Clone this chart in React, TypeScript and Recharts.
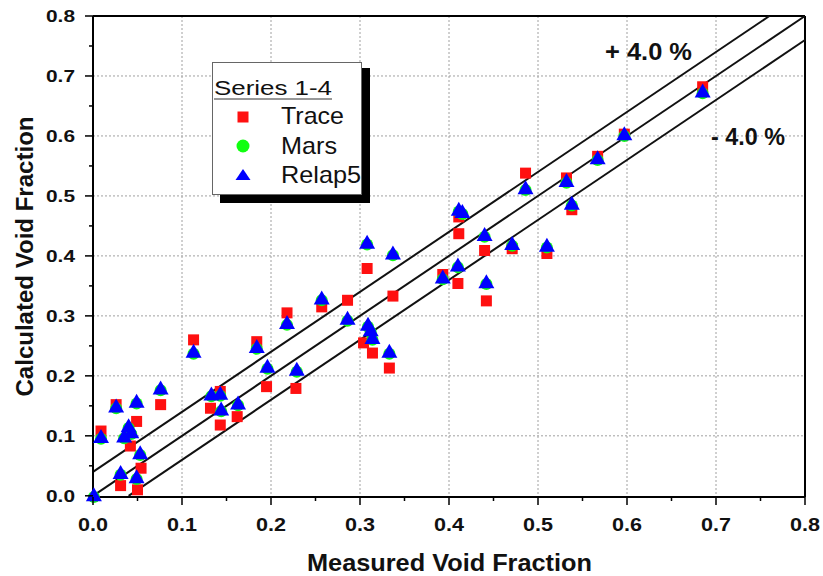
import {
  ScatterChart,
  Scatter,
  XAxis,
  YAxis,
  CartesianGrid,
  ReferenceLine,
  Legend,
  Label,
} from 'recharts';

// [measured, calculated]
const traceData: [number, number][] = [
  [0.009, 0.108], [0.026, 0.152], [0.031, 0.017], [0.042, 0.083], [0.049, 0.124],
  [0.054, 0.046], [0.05, 0.01], [0.076, 0.152], [0.113, 0.26], [0.132, 0.146],
  [0.143, 0.118], [0.143, 0.174], [0.162, 0.132], [0.184, 0.257], [0.195, 0.182],
  [0.218, 0.305], [0.228, 0.179], [0.257, 0.315], [0.286, 0.326], [0.308, 0.379],
  [0.337, 0.333], [0.304, 0.255], [0.314, 0.238], [0.333, 0.213], [0.393, 0.369],
  [0.41, 0.354], [0.411, 0.437], [0.411, 0.465], [0.44, 0.409], [0.442, 0.325],
  [0.471, 0.412], [0.486, 0.538], [0.51, 0.404], [0.532, 0.53], [0.538, 0.477],
  [0.567, 0.566], [0.597, 0.603], [0.685, 0.682],
];

const marsData: [number, number][] = [
  [0.001, -0.002], [0.009, 0.095], [0.026, 0.146], [0.031, 0.035], [0.035, 0.096],
  [0.04, 0.113], [0.043, 0.103], [0.049, 0.154], [0.053, 0.068], [0.049, 0.028],
  [0.076, 0.176], [0.113, 0.237], [0.133, 0.166], [0.143, 0.167], [0.144, 0.141],
  [0.163, 0.151], [0.184, 0.245], [0.196, 0.212], [0.218, 0.285], [0.229, 0.207],
  [0.257, 0.326], [0.286, 0.292], [0.308, 0.419], [0.337, 0.401], [0.309, 0.282],
  [0.312, 0.273], [0.314, 0.26], [0.333, 0.237], [0.393, 0.361], [0.41, 0.381],
  [0.411, 0.474], [0.415, 0.47], [0.44, 0.432], [0.442, 0.353], [0.471, 0.417],
  [0.486, 0.51], [0.51, 0.414], [0.532, 0.522], [0.538, 0.484], [0.567, 0.56],
  [0.597, 0.6], [0.685, 0.671],
];

const relapData: [number, number][] = [
  [0.001, 0.001], [0.009, 0.098], [0.026, 0.149], [0.031, 0.038], [0.035, 0.099],
  [0.04, 0.116], [0.043, 0.106], [0.049, 0.157], [0.053, 0.071], [0.049, 0.031],
  [0.076, 0.179], [0.113, 0.24], [0.133, 0.169], [0.143, 0.17], [0.144, 0.144],
  [0.163, 0.154], [0.184, 0.248], [0.196, 0.215], [0.218, 0.288], [0.229, 0.21],
  [0.257, 0.329], [0.286, 0.295], [0.308, 0.422], [0.337, 0.404], [0.309, 0.285],
  [0.312, 0.276], [0.314, 0.263], [0.333, 0.24], [0.393, 0.364], [0.41, 0.384],
  [0.411, 0.477], [0.415, 0.473], [0.44, 0.435], [0.442, 0.356], [0.471, 0.42],
  [0.486, 0.513], [0.51, 0.417], [0.532, 0.525], [0.538, 0.487], [0.567, 0.563],
  [0.597, 0.603], [0.685, 0.674],
];

const majorTicks = [0, 0.1, 0.2, 0.3, 0.4, 0.5, 0.6, 0.7, 0.8];
const minorTicks = [0.05, 0.15, 0.25, 0.35, 0.45, 0.55, 0.65, 0.75];
const gridValues = [0.1, 0.2, 0.3, 0.4, 0.5, 0.6, 0.7];
const bandOffsets = [0.04, 0, -0.04];
const legendItems = ['Trace', 'Mars', 'Relap5'];

const FONT = '"Liberation Sans", Arial, sans-serif';
const MAX = 0.8;
const RED = '#ff1010';
const GREEN = '#10ff10';
const BLUE = '#0000ff';

const toPoints = (arr: [number, number][]) => arr.map(([x, y]) => ({ x, y }));
const allTicks = [...majorTicks, ...minorTicks].sort((a, b) => a - b);
const isMajor = (v: number) => majorTicks.includes(v);

const XTick = ({ x, y, payload }: any) => {
  const major = isMajor(payload.value);
  return (
    <g>
      <line x1={x} x2={x} y1={y} y2={y + (major ? 8 : 4)} stroke="#000" strokeWidth={1.5} />
      {major && (
        <text
          x={x}
          y={y + 34}
          textAnchor="middle"
          fontFamily={FONT}
          fontWeight="bold"
          fontSize={18}
          textLength={30}
          lengthAdjust="spacingAndGlyphs"
          fill="#111"
        >
          {payload.value.toFixed(1)}
        </text>
      )}
    </g>
  );
};

const YTick = ({ x, y, payload }: any) => {
  const major = isMajor(payload.value);
  return (
    <g>
      <line x1={x} x2={x - (major ? 8 : 4)} y1={y} y2={y} stroke="#000" strokeWidth={1.5} />
      {major && (
        <text
          x={x - 47}
          y={y + 6}
          fontFamily={FONT}
          fontWeight="bold"
          fontSize={17}
          textLength={29}
          lengthAdjust="spacingAndGlyphs"
          fill="#111"
        >
          {payload.value.toFixed(1)}
        </text>
      )}
    </g>
  );
};

const Square = ({ cx, cy }: any) => (
  <rect x={cx - 5.5} y={cy - 5.5} width={11} height={11} fill={RED} />
);
const Dot = ({ cx, cy }: any) => <circle cx={cx} cy={cy} r={6} fill={GREEN} />;
const Tri = ({ cx, cy }: any) => (
  <polygon points={`${cx},${cy - 8} ${cx + 8},${cy + 6} ${cx - 8},${cy + 6}`} fill={BLUE} />
);

const legendWidths = [63, 56, 80];

// legend drawn relative to a wrapper whose origin is (205, 55)
const LegendBox = () => (
  <svg width={175} height={155} style={{ display: 'block' }}>
    <rect x={15} y={13} width={150} height={135} fill="#000" />
    <rect x={7.5} y={7.5} width={149} height={132} fill="#fff" stroke="#666" strokeWidth={1} />
    <text
      x={9}
      y={40}
      fontFamily={FONT}
      fontSize={20}
      textLength={118}
      lengthAdjust="spacingAndGlyphs"
      fill="#111"
    >
      Series 1-4
    </text>
    <line x1={9} x2={127} y1={44} y2={44} stroke="#333" strokeWidth={1.2} />
    <rect x={32.5} y={56.5} width={11} height={11} fill={RED} />
    <circle cx={38} cy={91} r={6.5} fill={GREEN} />
    <polygon points="38,114 45.5,125 30.5,125" fill={BLUE} />
    {legendItems.map((name, i) => (
      <text
        key={name}
        x={76}
        y={69 + i * 29.5}
        fontFamily={FONT}
        fontSize={24}
        textLength={legendWidths[i]}
        lengthAdjust="spacingAndGlyphs"
        fill="#111"
      >
        {name}
      </text>
    ))}
  </svg>
);

export default function App() {
  return (
    <div style={{ position: 'absolute', left: 0, top: 0, width: 823, height: 576, background: '#fff' }}>
      <ScatterChart width={823} height={576} margin={{ top: 16, right: 18, bottom: 0, left: 0 }}>
        <CartesianGrid
          stroke="#a0a0a0"
          strokeDasharray="2 2"
          horizontalValues={gridValues}
          verticalValues={gridValues}
        />
        <XAxis
          type="number"
          dataKey="x"
          domain={[0, MAX]}
          ticks={allTicks}
          interval={0}
          height={79}
          tickSize={0}
          tickMargin={0}
          tickLine={false}
          tick={<XTick />}
          axisLine={{ stroke: '#000', strokeWidth: 2 }}
        >
          <Label
            content={({ viewBox }: any) => (
              <text
                x={449.5}
                y={viewBox.y + 74}
                textAnchor="middle"
                fontFamily={FONT}
                fontWeight="bold"
                fontSize={24}
                textLength={285}
                lengthAdjust="spacingAndGlyphs"
                fill="#111"
              >
                Measured Void Fraction
              </text>
            )}
          />
        </XAxis>
        <YAxis
          type="number"
          dataKey="y"
          domain={[0, MAX]}
          ticks={allTicks}
          interval={0}
          width={93}
          tickSize={0}
          tickMargin={0}
          tickLine={false}
          tick={<YTick />}
          axisLine={{ stroke: '#000', strokeWidth: 2 }}
        >
          <Label
            content={({ viewBox }: any) => {
              const bx = 33;
              const cy = viewBox.y + viewBox.height / 2;
              return (
                <text
                  x={bx}
                  y={cy}
                  transform={`rotate(-90 ${bx} ${cy})`}
                  textAnchor="middle"
                  fontFamily={FONT}
                  fontWeight="bold"
                  fontSize={24}
                  textLength={280}
                  lengthAdjust="spacingAndGlyphs"
                  fill="#111"
                >
                  Calculated Void Fraction
                </text>
              );
            }}
          />
        </YAxis>
        <ReferenceLine y={MAX} stroke="#000" strokeWidth={2} />
        <ReferenceLine x={MAX} stroke="#000" strokeWidth={2} />
        {bandOffsets.map((off) => {
          const x0 = Math.max(0, -off);
          const x1 = Math.min(MAX, MAX - off);
          return (
            <ReferenceLine
              key={off}
              segment={[
                { x: x0, y: x0 + off },
                { x: x1, y: x1 + off },
              ]}
              stroke="#111"
              strokeWidth={2}
            />
          );
        })}
        <Scatter name="Trace" data={toPoints(traceData)} shape={<Square />} isAnimationActive={false} />
        <Scatter name="Mars" data={toPoints(marsData)} shape={<Dot />} isAnimationActive={false} />
        <Scatter name="Relap5" data={toPoints(relapData)} shape={<Tri />} isAnimationActive={false} />
        <Legend
          layout="horizontal"
          verticalAlign="middle"
          align="center"
          content={() => <LegendBox />}
          wrapperStyle={{ position: 'absolute', left: 205, top: 55, width: 175, height: 155 }}
        />
      </ScatterChart>
      <svg
        width={823}
        height={576}
        style={{ position: 'absolute', left: 0, top: 0, pointerEvents: 'none' }}
      >
        <text x={605} y={60} fontFamily={FONT} fontWeight="bold" fontSize={24} textLength={87} lengthAdjust="spacingAndGlyphs" fill="#111">
          + 4.0 %
        </text>
        <text x={711} y={145} fontFamily={FONT} fontWeight="bold" fontSize={24} textLength={74} lengthAdjust="spacingAndGlyphs" fill="#111">
          - 4.0 %
        </text>
      </svg>
    </div>
  );
}
